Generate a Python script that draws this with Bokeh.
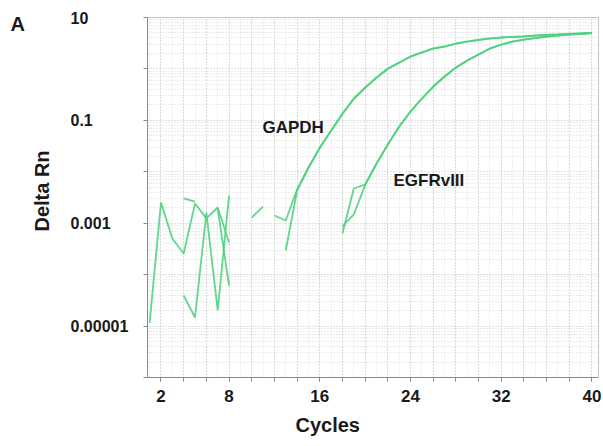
import math
from bokeh.plotting import figure
from bokeh.layouts import row
from bokeh.models import FixedTicker, Grid, Label, Range1d, Title
from bokeh.core.properties import value
from bokeh.embed import file_html
from bokeh.resources import INLINE

nan = float("nan")

cycles = list(range(1, 41))

# Delta Rn per cycle (NaN = non-positive value, not drawn on a log axis)
gapdh_rep1 = [1.17e-5, 2.53e-3, 5.05e-4, 2.58e-4, 2.42e-3, 1.24e-3, 2.02e-3, 4.22e-4, nan, nan,
              nan, 1.41e-3, 1.13e-3, 4.53e-3, 0.0121, 0.0297, 0.0635, 0.136, 0.266, 0.435,
              0.681, 1.02, 1.33, 1.75, 2.09, 2.50, 2.73, 3.12, 3.41, 3.65,
              3.91, 4.08, 4.18, 4.27, 4.47, 4.57, 4.67, 4.78, 4.89, 5.00]
gapdh_rep2 = [nan, nan, nan, 3.03e-3, 2.64e-3, nan, 1.95e-3, 6.15e-5, nan, 1.29e-3,
              2.11e-3, nan, 2.95e-4, 4.33e-3, 0.0118, 0.0290, 0.0620, 0.132, 0.260, 0.428,
              0.672, 1.00, 1.31, 1.73, 2.07, 2.47, 2.72, 3.10, 3.40, 3.66,
              3.90, 4.10, 4.20, 4.30, 4.46, 4.58, 4.68, 4.79, 4.90, 5.02]
egfr_rep1 = [nan, nan, nan, 3.93e-5, 1.47e-5, 1.61e-3, 2.01e-5, 3.46e-3, nan, nan,
             nan, nan, nan, nan, nan, nan, nan, 6.31e-4, 4.73e-3, 5.66e-3,
             0.0145, 0.0340, 0.0760, 0.149, 0.266, 0.455, 0.713, 1.07, 1.46, 1.91,
             2.50, 2.98, 3.41, 3.73, 3.99, 4.27, 4.47, 4.67, 4.78, 5.00]
egfr_rep2 = [nan, nan, nan, nan, nan, nan, nan, nan, nan, nan,
             nan, nan, nan, nan, nan, nan, nan, 8.63e-4, 1.48e-3, 5.50e-3,
             0.0142, 0.0335, 0.0750, 0.147, 0.262, 0.450, 0.705, 1.06, 1.45, 1.90,
             2.48, 2.97, 3.40, 3.72, 3.98, 4.25, 4.46, 4.66, 4.79, 5.01]

x_tick_values = [2, 8, 16, 24, 32, 40]
y_tick_values = [1e-5, 1e-3, 0.1, 10]
y_tick_labels = ["0.00001", "0.001", "0.1", "10"]

FONT = "Liberation Sans"
GREEN = "#50d27f"
AXIS = "#8a8a8a"
TXT = "#1a1a1a"

H = 445
TOP, BOTTOM = 17, 68          # frame margins (px)
Y0, Y1 = 1e-6, 10.0
PX_PER_DEC = (H - TOP - BOTTOM) / math.log10(Y1 / Y0)
X0, X1 = 0.81, 40.58
LEFT_W = 133

# ---------- main plot ----------
p = figure(width=469, height=H, output_backend="svg", toolbar_location=None,
           y_axis_type="log", x_range=Range1d(X0, X1), y_range=Range1d(Y0, Y1),
           min_border_left=14, min_border_right=4, min_border_top=TOP, min_border_bottom=BOTTOM)
p.outline_line_color = "#c4c4c4"

p.xgrid.visible = False
p.ygrid.visible = False
decades = [10.0 ** k for k in range(-6, 2)]
log_minor = [m * d for d in decades[:-1] for m in range(2, 10)]
p.add_layout(Grid(dimension=0, ticker=FixedTicker(ticks=list(range(2, 41, 2)), minor_ticks=list(range(1, 41))),
                  grid_line_color="#c2c2c2", grid_line_dash="1 2",
                  minor_grid_line_color="#dedede", minor_grid_line_dash="1 2"))
p.add_layout(Grid(dimension=1, ticker=FixedTicker(ticks=decades, minor_ticks=log_minor),
                  grid_line_color="#c2c2c2", grid_line_dash="1 2",
                  minor_grid_line_color="#d8d8d8", minor_grid_line_dash="1 2"))

p.xaxis.ticker = FixedTicker(ticks=x_tick_values, minor_ticks=list(range(2, 41, 2)))
p.xaxis.axis_line_color = AXIS
p.xaxis.major_tick_line_color = AXIS
p.xaxis.minor_tick_line_color = AXIS
p.xaxis.major_tick_in = 0
p.xaxis.major_tick_out = 4
p.xaxis.minor_tick_in = 0
p.xaxis.minor_tick_out = 4
p.xaxis.major_label_text_font = FONT
p.xaxis.major_label_text_font_style = "bold"
p.xaxis.major_label_text_font_size = "17px"
p.xaxis.major_label_text_color = TXT
p.xaxis.major_label_standoff = 8

p.yaxis.ticker = FixedTicker(ticks=[], minor_ticks=decades)
p.yaxis.axis_line_color = AXIS
p.yaxis.minor_tick_line_color = AXIS
p.yaxis.minor_tick_in = 0
p.yaxis.minor_tick_out = 4
p.yaxis.major_tick_in = 0
p.yaxis.major_tick_out = 4
p.yaxis.major_label_standoff = 0

for ys in (gapdh_rep1, gapdh_rep2, egfr_rep1, egfr_rep2):
    p.line(cycles, ys, line_color=GREEN, line_width=1.8, line_alpha=0.9)

p.add_layout(Title(text="Cycles", align="left", offset=148, standoff=15, text_font=FONT,
                   text_font_style="bold", text_font_size="20px", text_color=TXT), "below")

p.add_layout(Label(x=10.95, y=0.0726, text="GAPDH", text_align="left", text_baseline="alphabetic",
                   text_font=FONT, text_font_style="bold", text_font_size="17px", text_color=TXT))
p.add_layout(Label(x=22.5, y=0.00678, text="EGFRvIII", text_align="left", text_baseline="alphabetic",
                   text_font=FONT, text_font_style="bold", text_font_size="17px", text_color=TXT))

# ---------- left strip: y tick labels, axis title, panel letter (same log scale) ----------
lo = Y0 / 10 ** (BOTTOM / PX_PER_DEC)
hi = Y1 * 10 ** (TOP / PX_PER_DEC)
left = figure(width=LEFT_W, height=H, output_backend="svg", toolbar_location=None,
              y_axis_type="log", x_range=Range1d(0, LEFT_W), y_range=Range1d(lo, hi),
              x_axis_location=None, y_axis_location=None, min_border=0)
left.frame_align = False
left.outline_line_color = None
left.grid.visible = False

left.text(x=[70] * len(y_tick_values), y=y_tick_values, text=y_tick_labels,
          text_align="left", text_baseline="middle", text_font=value(FONT),
          text_font_style="bold", text_font_size="16px", text_color=TXT)
left.text(x=[41.5], y=[10 ** (1 - (190.5 - TOP) / PX_PER_DEC)], text=["Delta Rn"], angle=math.pi / 2,
          text_align="center", text_baseline="middle", text_font=value(FONT),
          text_font_style="bold", text_font_size="20px", text_color=TXT)
left.text(x=[10], y=[10 ** (1 - (12 - TOP) / PX_PER_DEC)], text=["A"],
          text_align="left", text_baseline="top", text_font=value(FONT),
          text_font_style="bold", text_font_size="20px", text_color=TXT)

layout = row(left, p, spacing=0)
open("out.html", "w").write(file_html(layout, INLINE))
